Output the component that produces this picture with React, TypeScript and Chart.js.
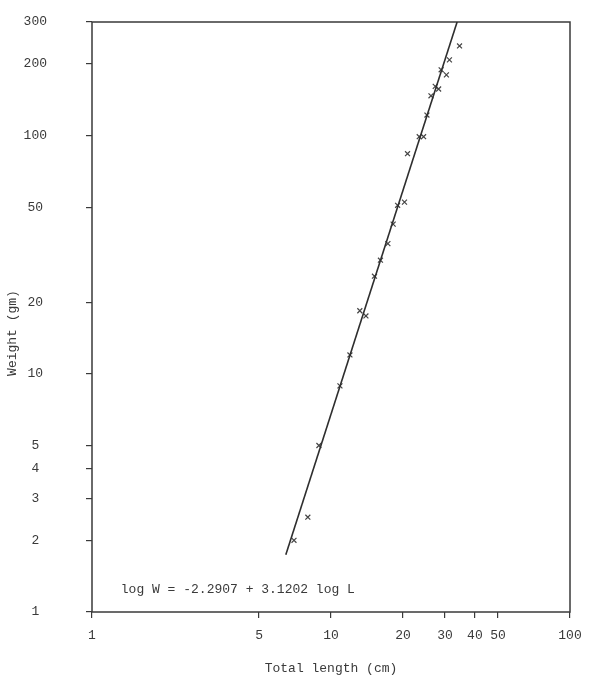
import React, { useEffect, useRef } from "react";
import { Chart, registerables } from "chart.js";

Chart.register(...registerables);

// Observed fish: total length (cm) and weight (gm)
const lengthCm = [34.5, 31.3, 28.9, 30.4, 27.3, 28.2, 26.2, 25.2, 23.4, 24.4, 20.9, 20.3, 19.0, 18.2, 17.3, 16.1, 15.2, 13.2, 14.0, 12.0, 10.9, 8.9, 8.0, 7.0];
const weightGm = [238, 208, 189, 180, 161, 157, 147, 122, 99, 99, 84, 52.6, 51, 42.5, 35.2, 30, 25.7, 18.4, 17.5, 12.0, 8.9, 5.0, 2.5, 2.0];

// Fitted regression line end points
const fitLength = [6.47, 33.7];
const fitWeight = [1.74, 300];

const xTicks = [1, 5, 10, 20, 30, 40, 50, 100];
const yTicks = [1, 2, 3, 4, 5, 10, 20, 50, 100, 200, 300];

const xTitle = "Total length (cm)";
const yTitle = "Weight (gm)";
const equationLabel = "log W = -2.2907 + 3.1202 log L";
const equationAt = { x: 1.32, y: 1.237 };

const INK = "#3a3a3a";
const FONT_FAMILY = '"Liberation Mono", "DejaVu Sans Mono", monospace';

export default function App() {
  const canvasRef = useRef<HTMLCanvasElement | null>(null);

  useEffect(() => {
    const canvas = canvasRef.current;
    if (!canvas) return;
    const font = { family: FONT_FAMILY, size: 13 };

    const framePlugin = {
      id: "frame",
      beforeDatasetsDraw(chart: any) {
        const { ctx, chartArea } = chart;
        ctx.save();
        ctx.strokeStyle = INK;
        ctx.lineWidth = 1.5;
        ctx.strokeRect(chartArea.left, chartArea.top, chartArea.right - chartArea.left, chartArea.bottom - chartArea.top);
        ctx.restore();
      },
      afterDraw(chart: any) {
        const { ctx, chartArea } = chart;
        const xs = chart.scales.x;
        const ys = chart.scales.y;
        ctx.save();
        ctx.fillStyle = INK;
        ctx.font = `13px ${FONT_FAMILY}`;
        ctx.textAlign = "left";
        ctx.textBaseline = "middle";
        ctx.fillText(equationLabel, xs.getPixelForValue(equationAt.x), ys.getPixelForValue(equationAt.y));
        // y-axis title, rotated
        ctx.translate(ys.left + 13, (chartArea.top + chartArea.bottom) / 2 + 16);
        ctx.rotate(-Math.PI / 2);
        ctx.textAlign = "center";
        ctx.fillText(yTitle, 0, 0);
        ctx.restore();
      },
    };

    const chart = new Chart(canvas, {
      type: "scatter",
      data: {
        datasets: [
          {
            type: "line",
            label: "fit",
            data: fitLength.map((x, i) => ({ x, y: fitWeight[i] })),
            borderColor: "#2e2e2e",
            borderWidth: 1.6,
            pointRadius: 0,
            fill: false,
          } as any,
          {
            type: "scatter",
            label: "observed",
            data: lengthCm.map((x, i) => ({ x, y: weightGm[i] })),
            pointStyle: "crossRot",
            pointRadius: 3.5,
            borderColor: "#444",
            borderWidth: 1.2,
            backgroundColor: "#444",
          },
        ],
      },
      options: {
        responsive: false,
        animation: false,
        devicePixelRatio: 1,
        layout: { padding: { left: 0, top: 22, right: 20, bottom: 0 } },
        plugins: { legend: { display: false }, tooltip: { enabled: false } },
        scales: {
          x: {
            type: "logarithmic",
            min: 1,
            max: 100,
            afterBuildTicks: (s: any) => {
              s.ticks = xTicks.map((v) => ({ value: v }));
            },
            afterFit: (s: any) => {
              s.height = 68;
              s.paddingLeft = 0;
              s.paddingRight = 0;
            },
            grid: { drawOnChartArea: false, drawTicks: true, tickLength: 6, color: INK, lineWidth: 1.2 },
            border: { display: false },
            ticks: {
              autoSkip: false,
              maxRotation: 0,
              padding: 10,
              font,
              color: INK,
              callback: (v: any) => String(v),
            },
            title: { display: true, text: xTitle, font, color: INK, padding: { top: 0, bottom: 4 } },
          },
          y: {
            type: "logarithmic",
            min: 1,
            max: 300,
            afterBuildTicks: (s: any) => {
              s.ticks = yTicks.map((v) => ({ value: v }));
            },
            afterFit: (s: any) => {
              s.width = 92;
              s.paddingTop = 0;
              s.paddingBottom = 0;
            },
            grid: { drawOnChartArea: false, drawTicks: true, tickLength: 6, color: INK, lineWidth: 1.2 },
            border: { display: false },
            ticks: {
              autoSkip: false,
              padding: 39,
              crossAlign: "center",
              font,
              color: INK,
              callback: (v: any) => String(v),
            },
            title: { display: false, text: yTitle },
          },
        },
      },
      plugins: [framePlugin],
    });

    return () => chart.destroy();
  }, []);

  return (
    <div style={{ position: "fixed", left: 0, top: 0, width: 590, height: 680, background: "#fff" }}>
      <canvas ref={canvasRef} width={590} height={680} />
    </div>
  );
}
